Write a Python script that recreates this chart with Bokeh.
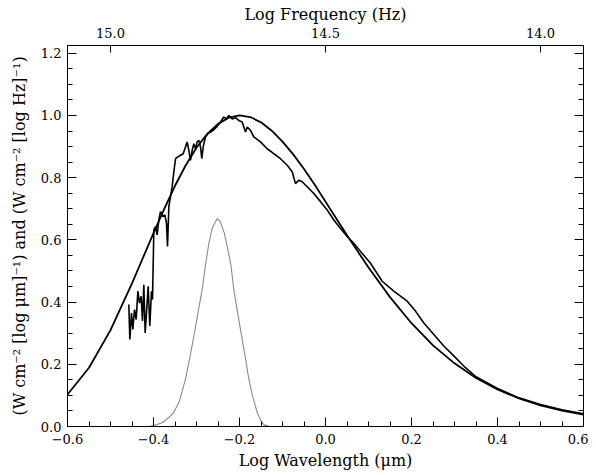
import numpy as np
from bokeh.plotting import figure
from bokeh.models import Range1d, LinearAxis, FixedTicker
from bokeh.embed import file_html
from bokeh.resources import INLINE

# ---------------- data ----------------
bb_x = [-0.600, -0.550, -0.500, -0.450, -0.425, -0.400, -0.375, -0.350, -0.325,
        -0.300, -0.275, -0.250, -0.225, -0.200, -0.175, -0.150, -0.125, -0.100,
        -0.075, -0.050, -0.025, 0.000, 0.025, 0.050, 0.100, 0.150, 0.200, 0.250,
        0.300, 0.350, 0.400, 0.450, 0.500, 0.550, 0.600]
bb_y = [0.103, 0.189, 0.310, 0.460, 0.541, 0.622, 0.700, 0.774, 0.840,
        0.896, 0.941, 0.973, 0.993, 1.000, 0.995, 0.978, 0.951, 0.916,
        0.875, 0.828, 0.777, 0.723, 0.669, 0.615, 0.511, 0.416, 0.332, 0.261,
        0.203, 0.156, 0.119, 0.090, 0.068, 0.051, 0.038]

spec_x = [-0.4574, -0.4550, -0.4512, -0.4480, -0.4442, -0.4403, -0.4364, -0.4326,
          -0.4287, -0.4256, -0.4225, -0.4194, -0.4163, -0.4124, -0.4086, -0.4047,
          -0.4023, -0.3992, -0.3953, -0.3915, -0.3876, -0.3837, -0.3783, -0.3736,
          -0.3698, -0.3674, -0.3643, -0.3605, -0.3566, -0.3527, -0.3488, -0.3434,
          -0.3372, -0.3310, -0.3256, -0.3217, -0.3178, -0.3140, -0.3101, -0.3062,
          -0.3023, -0.2984, -0.2946, -0.2907, -0.2876, -0.2845, -0.2791, -0.2737,
          -0.2674, -0.2598, -0.2519, -0.2442, -0.2365, -0.2302, -0.2249, -0.2170,
          -0.2093, -0.2016, -0.1938, -0.1860, -0.1821, -0.1744, -0.1667, -0.1512,
          -0.1356, -0.1202, -0.1047, -0.0891, -0.0775, -0.0698, -0.0620, -0.0542,
          -0.0426, -0.0272, -0.0116, 0.0040, 0.0193, 0.0349, 0.0504, 0.0658,
          0.0814, 0.1047, 0.1318, 0.1588, 0.1900, 0.2093, 0.2287, 0.2519,
          0.2751, 0.2984, 0.3256, 0.3500, 0.4000, 0.4500, 0.5000, 0.5500, 0.6000]
spec_y = [0.392, 0.280, 0.365, 0.312, 0.376, 0.344, 0.435, 0.397,
          0.419, 0.339, 0.456, 0.301, 0.365, 0.451, 0.323, 0.435,
          0.408, 0.632, 0.643, 0.616, 0.664, 0.691, 0.675, 0.680,
          0.653, 0.579, 0.707, 0.739, 0.771, 0.819, 0.861, 0.867,
          0.872, 0.877, 0.899, 0.915, 0.888, 0.856, 0.888, 0.909,
          0.893, 0.915, 0.920, 0.899, 0.861, 0.899, 0.931, 0.941,
          0.947, 0.954, 0.965, 0.979, 0.995, 0.989, 1.000, 0.989,
          0.993, 0.984, 0.979, 0.947, 0.963, 0.952, 0.931, 0.915,
          0.893, 0.877, 0.861, 0.840, 0.819, 0.781, 0.792, 0.787,
          0.771, 0.749, 0.723, 0.696, 0.664, 0.637, 0.611, 0.589,
          0.563, 0.525, 0.467, 0.435, 0.403, 0.371, 0.333, 0.296,
          0.259, 0.227, 0.189, 0.160, 0.122, 0.092, 0.071, 0.054, 0.041]

filt_x = [-0.600, -0.420, -0.410, -0.399, -0.380, -0.365, -0.353, -0.340, -0.3256,
          -0.315, -0.306, -0.296, -0.2868, -0.279, -0.2713, -0.263, -0.252,
          -0.245, -0.235, -0.2286, -0.220, -0.2132, -0.205, -0.1938, -0.185,
          -0.1783, -0.170, -0.1589, -0.150, -0.1434, -0.130, 0.600]
filt_y = [0.000, 0.000, 0.001, 0.003, 0.012, 0.028, 0.045, 0.080, 0.152,
          0.225, 0.291, 0.370, 0.440, 0.520, 0.589, 0.640, 0.668,
          0.660, 0.620, 0.579, 0.520, 0.440, 0.370, 0.280, 0.210,
          0.152, 0.100, 0.045, 0.018, 0.006, 0.000, 0.000]

x_ticks = [-0.6, -0.4, -0.2, 0.0, 0.2, 0.4, 0.6]
x_tick_labels = ["\u22120.6", "\u22120.4", "\u22120.2", "0.0", "0.2", "0.4", "0.6"]
y_ticks = [0.0, 0.2, 0.4, 0.6, 0.8, 1.0, 1.2]
y_tick_labels = ["0.0", "0.2", "0.4", "0.6", "0.8", "1.0", "1.2"]
f_ticks = [15.0, 14.5, 14.0]
f_tick_labels = ["15.0", "14.5", "14.0"]

# ---------------- figure ----------------
FONT = "DejaVu Serif"
p = figure(width=588, height=472,
           x_range=Range1d(-0.6, 0.6), y_range=Range1d(0.0, 1.225),
           output_backend="svg", toolbar_location=None,
           min_border_left=67, min_border_right=5,
           min_border_top=45, min_border_bottom=45)
p.extra_x_ranges = {"freq": Range1d(15.1, 13.9)}
p.grid.visible = False
p.outline_line_color = "black"
p.background_fill_color = "white"
p.border_fill_color = "white"

p.line(filt_x, filt_y, line_color="#8a8a8a", line_width=1.1)
p.line(bb_x, bb_y, line_color="black", line_width=1.8)
p.line(spec_x, spec_y, line_color="black", line_width=1.6)

x_minor = [round(v, 3) for v in np.arange(-0.6, 0.6001, 0.05)]
y_minor = [round(v, 3) for v in np.arange(0.0, 1.2251, 0.05)]


def style(ax):
    ax.axis_line_color = "black"
    ax.major_tick_line_color = "black"
    ax.minor_tick_line_color = "black"
    ax.major_tick_in = 9
    ax.major_tick_out = 0
    ax.minor_tick_in = 5
    ax.minor_tick_out = 0
    ax.major_label_text_font = FONT
    ax.major_label_text_font_size = "13px"
    ax.major_label_text_color = "black"
    ax.axis_label_text_font = FONT
    ax.axis_label_text_font_size = "16px"
    ax.axis_label_text_font_style = "normal"
    ax.axis_label_text_color = "black"


xa = p.xaxis[0]
xa.ticker = FixedTicker(ticks=x_ticks, minor_ticks=x_minor)
xa.major_label_overrides = dict(zip(x_ticks, x_tick_labels))
xa.axis_label = "Log Wavelength (\u03bcm)"
style(xa)
xa.major_label_standoff = 7
xa.axis_label_standoff = 4

ya = p.yaxis[0]
ya.ticker = FixedTicker(ticks=y_ticks, minor_ticks=y_minor)
ya.major_label_overrides = dict(zip(y_ticks, y_tick_labels))
ya.axis_label = ("(W cm\u207b\u00b2 [log \u03bcm]\u207b\u00b9) and "
                 "(W cm\u207b\u00b2 [log Hz]\u207b\u00b9)")
style(ya)
ya.major_label_standoff = 6
ya.axis_label_standoff = 9

ra = LinearAxis(ticker=FixedTicker(ticks=y_ticks, minor_ticks=y_minor))
style(ra)
ra.major_label_text_color = None
ra.major_label_text_alpha = 0
ra.major_label_text_font_size = "1px"
ra.major_label_standoff = 0
p.add_layout(ra, "right")

ta = LinearAxis(x_range_name="freq", ticker=FixedTicker(ticks=f_ticks, minor_ticks=[]))
ta.major_label_overrides = dict(zip(f_ticks, f_tick_labels))
ta.axis_label = "Log Frequency (Hz)"
style(ta)
ta.major_tick_in = 7
ta.major_label_standoff = 8
ta.axis_label_standoff = 1
p.add_layout(ta, "above")

open("out.html", "w").write(file_html(p, INLINE))
